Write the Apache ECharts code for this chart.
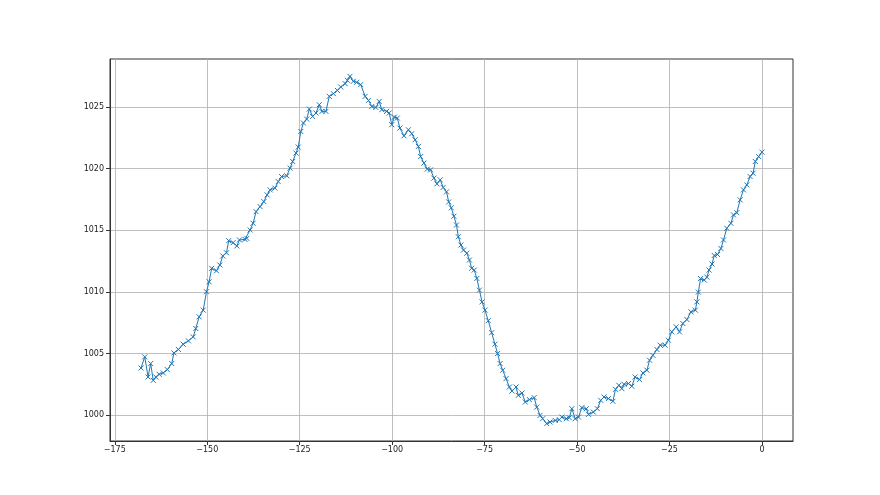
<!DOCTYPE html>
<html>
<head>
<meta charset="utf-8">
<script src="https://cdn.jsdelivr.net/npm/echarts@6/dist/echarts.min.js"></script>
<style>
html,body{margin:0;padding:0;background:#fff;}
#chart{width:880px;height:495px;}
</style>
</head>
<body>
<div id="chart"></div>
<script>
var xTicks = [-175, -150, -125, -100, -75, -50, -25, 0];
var yTicks = [1000, 1005, 1010, 1015, 1020, 1025];

var xValues = [
-167.9,-166.9,-166.0,-165.3,-164.6,-163.9,-163.0,-161.9,-160.8,-159.6,
-159.0,-157.8,-156.5,-155.1,-153.8,-153.1,-152.2,-151.1,-150.2,-149.5,
-148.8,-147.5,-146.6,-145.8,-144.8,-144.2,-143.0,-142.0,-141.3,-139.8,
-139.3,-138.4,-137.6,-136.8,-135.7,-134.7,-133.8,-133.0,-131.7,-130.8,
-129.9,-128.5,-127.6,-126.9,-126.0,-125.4,-124.7,-124.0,-123.1,-122.4,
-121.5,-120.6,-119.7,-119.0,-117.9,-117.0,-115.9,-114.8,-113.9,-112.7,
-112.1,-111.4,-110.5,-109.6,-108.5,-107.3,-106.4,-105.5,-104.4,-103.5,
-102.8,-101.5,-100.8,-100.1,-99.4,-98.6,-97.9,-96.8,-95.6,-94.7,
-93.8,-92.9,-92.3,-91.4,-90.5,-89.6,-88.7,-87.9,-87.0,-86.2,
-85.3,-84.7,-84.0,-83.3,-82.6,-82.1,-81.4,-80.7,-79.8,-79.1,
-78.5,-77.8,-77.1,-76.4,-75.7,-74.9,-74.0,-73.1,-72.2,-71.5,
-70.8,-70.1,-69.2,-68.3,-67.6,-66.5,-65.9,-64.9,-64.0,-62.9,
-61.6,-60.9,-60.0,-59.3,-58.2,-57.3,-55.9,-54.8,-54.1,-52.9,
-52.1,-51.4,-50.5,-49.6,-48.7,-47.5,-46.9,-45.6,-44.5,-43.6,
-42.7,-41.5,-40.3,-39.6,-38.7,-37.9,-37.3,-36.1,-35.2,-34.3,
-33.1,-32.2,-31.1,-30.4,-29.5,-28.4,-27.5,-26.2,-25.3,-24.4,
-23.2,-22.3,-21.4,-20.3,-19.2,-18.0,-17.6,-17.2,-16.6,-15.6,
-14.9,-14.3,-13.5,-12.9,-12.0,-11.1,-10.4,-9.5,-8.4,-7.7,
-6.8,-5.9,-5.0,-4.1,-3.2,-2.4,-1.8,-0.9,0.0
];

var yValues = [
1003.84,1004.74,1003.11,1004.20,1002.84,1003.11,1003.33,1003.44,1003.71,1004.20,
1005.06,1005.34,1005.77,1006.04,1006.36,1007.04,1007.99,1008.53,1010.02,1010.83,
1011.92,1011.72,1012.19,1012.92,1013.18,1014.16,1014.00,1013.73,1014.22,1014.27,
1014.35,1015.03,1015.57,1016.51,1016.92,1017.33,1017.87,1018.28,1018.42,1018.95,
1019.36,1019.42,1020.04,1020.58,1021.26,1021.75,1023.01,1023.70,1024.02,1024.83,
1024.23,1024.51,1025.18,1024.64,1024.64,1025.86,1026.08,1026.34,1026.62,1026.89,
1027.16,1027.48,1027.08,1027.00,1026.81,1025.86,1025.53,1025.04,1024.96,1025.45,
1024.78,1024.64,1024.51,1023.56,1024.18,1024.10,1023.29,1022.66,1023.15,1022.83,
1022.34,1021.80,1020.98,1020.45,1019.96,1019.90,1019.23,1018.77,1019.09,1018.48,
1018.12,1017.30,1016.82,1016.14,1015.43,1014.48,1013.81,1013.40,1013.14,1012.59,
1011.92,1011.78,1011.10,1010.15,1009.20,1008.53,1007.68,1006.70,1005.77,1005.01,
1004.20,1003.66,1002.98,1002.30,1001.97,1002.30,1001.62,1001.81,1001.08,1001.28,
1001.44,1000.67,1000.00,999.73,999.33,999.46,999.59,999.65,999.86,999.73,
999.81,1000.54,999.73,999.86,1000.63,1000.54,1000.08,1000.27,1000.54,1001.22,
1001.49,1001.36,1001.14,1002.11,1002.44,1002.17,1002.52,1002.58,1002.36,1003.11,
1002.90,1003.44,1003.66,1004.47,1004.87,1005.34,1005.69,1005.69,1006.09,1006.77,
1007.17,1006.77,1007.45,1007.77,1008.39,1008.53,1009.20,1009.99,1011.09,1010.97,
1011.21,1011.78,1012.27,1012.96,1013.04,1013.53,1014.22,1015.17,1015.57,1016.25,
1016.43,1017.47,1018.28,1018.68,1019.36,1019.63,1020.58,1020.98,1021.34
];

var points = xValues.map(function (x, i) { return [x, yValues[i]]; });

var xMinData = Math.min.apply(null, xValues), xMaxData = Math.max.apply(null, xValues);
var yMinData = Math.min.apply(null, yValues), yMaxData = Math.max.apply(null, yValues);
var xPad = (xMaxData - xMinData) * 0.05, yPad = (yMaxData - yMinData) * 0.05;

function fmt(v) { return String(v).replace('-', '\u2212'); }

var chart = echarts.init(document.getElementById('chart'), null, {renderer: 'canvas'});
chart.setOption({
  animation: false,
  backgroundColor: '#fff',
  grid: {left: 110, right: 87, top: 59, bottom: 54, show: true, borderColor: '#333', borderWidth: 1, containLabel: false},
  xAxis: {
    type: 'value',
    min: xMinData - xPad, max: xMaxData + xPad,
    axisLine: {show: true, onZero: false, lineStyle: {color: '#333', width: 1}},
    axisTick: {show: true, inside: false, length: 4, customValues: xTicks, lineStyle: {color: '#333'}},
    axisLabel: {customValues: xTicks, formatter: fmt, fontFamily: 'DejaVu Sans', fontSize: 8, color: '#222', margin: 5},
    splitLine: {show: true, lineStyle: {color: '#b0b0b0', width: 0.8}}
  },
  yAxis: {
    type: 'value',
    min: yMinData - yPad, max: yMaxData + yPad,
    axisLine: {show: true, onZero: false, lineStyle: {color: '#333', width: 1}},
    axisTick: {show: true, inside: false, length: 4, customValues: yTicks, lineStyle: {color: '#333'}},
    axisLabel: {customValues: yTicks, formatter: fmt, fontFamily: 'DejaVu Sans', fontSize: 8, color: '#222', margin: 6},
    splitLine: {show: true, lineStyle: {color: '#b0b0b0', width: 0.8}}
  },
  series: [{
    type: 'line',
    data: points,
    lineStyle: {color: '#1f77b4', width: 1},
    symbol: 'path://M0,0L10,10M0,10L10,0',
    symbolSize: 5,
    showSymbol: true,
    itemStyle: {color: 'rgba(0,0,0,0)', borderColor: '#1f77b4', borderWidth: 1},
    emphasis: {disabled: true}
  }]
});
</script>
</body>
</html>
